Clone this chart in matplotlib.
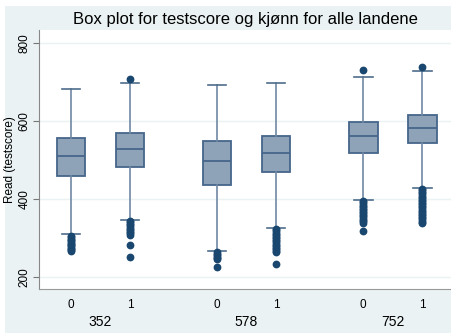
import matplotlib.pyplot as plt
from matplotlib.patches import Rectangle

plt.rcParams['font.family'] = ['Liberation Sans', 'DejaVu Sans']

# land og kjønn
countries = ['352', '578', '752']
genders = ['0', '1']

# boksstatistikk lest av figuren: (q1, median, q3, nedre whisker, øvre whisker)
q1 = [458, 482, 436, 468, 518, 543]
med = [510, 527, 497, 518, 561, 581]
q3 = [556, 569, 548, 562, 596, 616]
whislo = [310, 347, 266, 326, 397, 428]
whishi = [683, 698, 692, 697, 713, 727]

# uteliggere
fliers = [
    [305, 302, 298, 295, 292, 288, 285, 281, 278, 275, 272, 269, 267],
    [708, 344, 340, 336, 332, 328, 324, 320, 316, 312, 308, 283, 252],
    [264, 260, 256, 252, 248, 245, 226],
    [323, 319, 315, 311, 307, 303, 299, 295, 291, 287, 283, 279, 275,
     271, 267, 263, 234],
    [731, 395, 391, 387, 383, 379, 375, 371, 367, 363, 359, 355, 351,
     347, 343, 339, 318],
    [738, 426, 422, 418, 414, 410, 406, 402, 398, 394, 390, 386, 382,
     378, 374, 370, 366, 362, 358, 354, 350, 346, 342, 338],
]

gap = 2.475
positions = []
for g in range(len(countries)):
    for k in range(len(genders)):
        positions.append(g * gap + k)

stats = []
for i in range(len(q1)):
    stats.append(dict(med=med[i], q1=q1[i], q3=q3[i], whislo=whislo[i],
                      whishi=whishi[i], fliers=fliers[i]))

fig = plt.figure(figsize=(4.51, 3.33), dpi=100)
fig.patch.set_facecolor('white')
fig.patches.append(Rectangle((5 / 451, 0), 1, 1 - 6 / 333, transform=fig.transFigure,
                             facecolor='#eaf2f3', edgecolor='none', zorder=-10))
ax = fig.add_axes([39 / 451, 44 / 333, 1 - 39 / 451, (289 - 30) / 333])
ax.set_facecolor('white')

navy = '#1a476f'
ax.bxp(stats, positions=positions, widths=0.49, capwidths=0.32, patch_artist=True,
       boxprops=dict(facecolor='#8fa3b8', edgecolor='#45668a', linewidth=1.3),
       medianprops=dict(color='#45668a', linewidth=1.3),
       whiskerprops=dict(color='#7089a3', linewidth=1.2),
       capprops=dict(color='#4f6d8c', linewidth=1.2),
       flierprops=dict(marker='o', markerfacecolor=navy, markeredgecolor=navy,
                       markersize=4.6))

ax.set_ylim(169, 833)
ax.set_xlim(-0.542, 6.44)
ax.set_yticks([200, 400, 600, 800])
ax.set_yticklabels(['200', '400', '600', '800'], rotation=90, va='center', fontsize=8.5)
ax.yaxis.grid(True, color='#eaf2f3', linewidth=1)
ax.set_axisbelow(True)
ax.tick_params(axis='y', length=4, color='#777777', pad=2)

ax.set_xticks(positions)
ax.set_xticklabels(genders * len(countries), fontsize=8.5)
ax.set_xticks([g * gap + 0.5 for g in range(len(countries))], minor=True)
ax.set_xticklabels(countries, minor=True, fontsize=10)
ax.tick_params(axis='x', which='major', length=0, pad=7)
ax.tick_params(axis='x', which='minor', length=0, pad=19)

for s in ['top', 'right']:
    ax.spines[s].set_visible(False)
ax.spines['left'].set_color('#888888')
ax.spines['bottom'].set_color('#999999')

ax.set_ylabel('Read (testscore)', fontsize=8.5)
ax.yaxis.set_label_coords(-0.055, 0.5)
fig.text(0.545, 0.94, 'Box plot for testscore og kjønn for alle landene',
         ha='center', va='center', fontsize=12)

fig.savefig('out.png', dpi=100)
